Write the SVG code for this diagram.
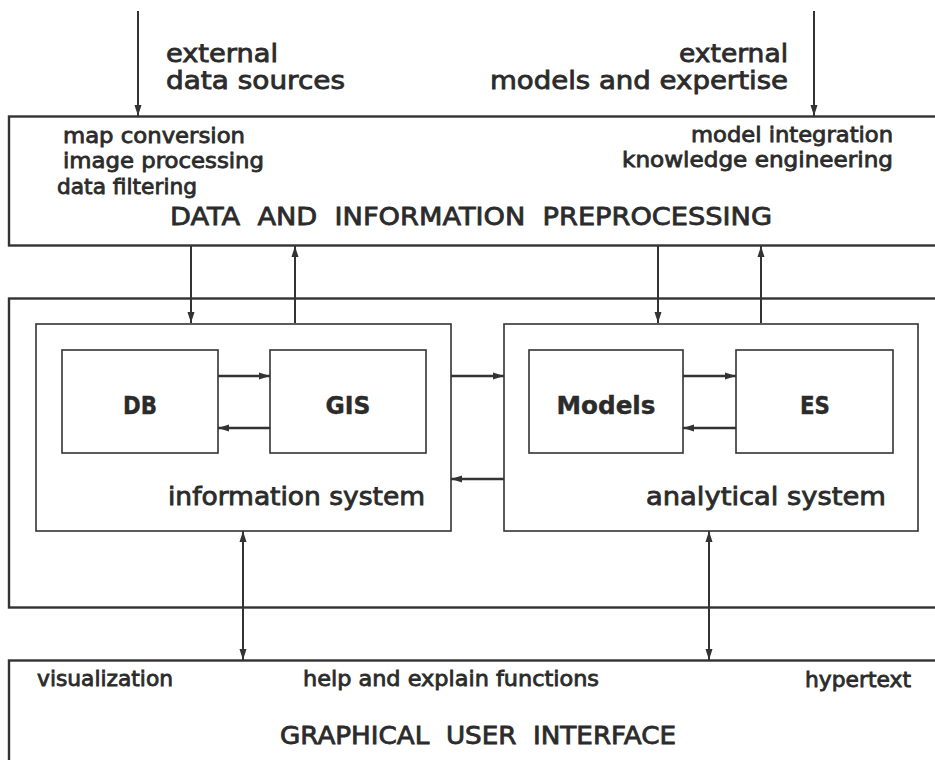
<svg xmlns="http://www.w3.org/2000/svg" width="935" height="760" viewBox="0 0 935 760">
<style>
text{font-family:"DejaVu Sans","Liberation Sans",sans-serif;fill:#2b2b2b;stroke:#2b2b2b;stroke-width:0.8}
.hd{font-size:24px}
.sm{font-size:21px}
.cap{font-size:25px}
.lbl{font-size:25px;text-anchor:middle;font-weight:bold;stroke-width:0.4}
.sys{font-size:24px}
.outer{fill:none;stroke:#333;stroke-width:2.4}
.inner{fill:none;stroke:#333;stroke-width:1.6}
.con{fill:none;stroke:#333;stroke-width:2}
.conh{fill:none;stroke:#333;stroke-width:2.6}
</style>
<defs>
<marker id="ah" markerUnits="userSpaceOnUse" markerWidth="12" markerHeight="9" refX="11" refY="4.5" orient="auto-start-reverse">
<path d="M0,1 L11,4.5 L0,8 z" fill="#333"/>
</marker>
</defs>
<rect width="935" height="760" fill="#fff"/>

<g id="preprocessing">
<rect class="outer" x="9" y="116.5" width="940" height="129"/>
<text class="sm" x="63" y="143" textLength="182" lengthAdjust="spacingAndGlyphs">map conversion</text>
<text class="sm" x="63" y="168" textLength="201" lengthAdjust="spacingAndGlyphs">image processing</text>
<text class="sm" x="57" y="194" textLength="140" lengthAdjust="spacingAndGlyphs">data filtering</text>
<text class="sm" x="691" y="142" textLength="202" lengthAdjust="spacingAndGlyphs">model integration</text>
<text class="sm" x="622" y="167" textLength="271" lengthAdjust="spacingAndGlyphs">knowledge engineering</text>
<text class="cap" x="170" y="225" textLength="602" lengthAdjust="spacingAndGlyphs" xml:space="preserve">DATA  AND  INFORMATION  PREPROCESSING</text>
</g>

<g id="external-data">
<text class="hd" x="166" y="62" textLength="112" lengthAdjust="spacingAndGlyphs">external</text>
<text class="hd" x="166" y="89" textLength="179" lengthAdjust="spacingAndGlyphs">data sources</text>
</g>
<g id="external-models">
<text class="hd" x="679" y="62" textLength="109" lengthAdjust="spacingAndGlyphs">external</text>
<text class="hd" x="490" y="89" textLength="298" lengthAdjust="spacingAndGlyphs">models and expertise</text>
</g>

<g id="system">
<rect class="outer" x="9" y="298.5" width="940" height="309"/>
</g>

<g id="information-system">
<rect class="inner" x="36" y="324" width="415" height="207"/>
<text class="sys" x="168" y="505" textLength="257" lengthAdjust="spacingAndGlyphs">information system</text>
</g>
<g id="db">
<rect class="inner" x="62" y="350" width="156" height="103"/>
<text class="lbl" x="140" y="414" textLength="34" lengthAdjust="spacingAndGlyphs">DB</text>
</g>
<g id="gis">
<rect class="inner" x="270" y="350" width="156" height="103"/>
<text class="lbl" x="348" y="414" textLength="45" lengthAdjust="spacingAndGlyphs">GIS</text>
</g>

<g id="analytical-system">
<rect class="inner" x="504" y="324" width="414" height="207"/>
<text class="sys" x="646" y="505" textLength="240" lengthAdjust="spacingAndGlyphs">analytical system</text>
</g>
<g id="models">
<rect class="inner" x="529" y="350" width="154" height="103"/>
<text class="lbl" x="606" y="414" textLength="99" lengthAdjust="spacingAndGlyphs">Models</text>
</g>
<g id="es">
<rect class="inner" x="736" y="350" width="157" height="103"/>
<text class="lbl" x="815" y="414" textLength="30" lengthAdjust="spacingAndGlyphs">ES</text>
</g>

<g id="gui">
<rect class="outer" x="9" y="660.5" width="940" height="130"/>
<text class="sm" x="37" y="686" textLength="136" lengthAdjust="spacingAndGlyphs">visualization</text>
<text class="sm" x="303" y="686" textLength="296" lengthAdjust="spacingAndGlyphs">help and explain functions</text>
<text class="sm" x="805" y="687" textLength="106" lengthAdjust="spacingAndGlyphs">hypertext</text>
<text class="sys" x="280" y="744" textLength="396" lengthAdjust="spacingAndGlyphs" xml:space="preserve">GRAPHICAL  USER  INTERFACE</text>
</g>

<g id="connectors">
<line class="con" x1="138" y1="11" x2="138" y2="116" marker-end="url(#ah)"/>
<line class="con" x1="814" y1="11" x2="814" y2="116" marker-end="url(#ah)"/>
<line class="con" x1="191" y1="246" x2="191" y2="323" marker-end="url(#ah)"/>
<line class="con" x1="295" y1="323" x2="295" y2="246" marker-end="url(#ah)"/>
<line class="con" x1="658" y1="246" x2="658" y2="323" marker-end="url(#ah)"/>
<line class="con" x1="761" y1="323" x2="761" y2="246" marker-end="url(#ah)"/>
<line class="conh" x1="218" y1="376" x2="270" y2="376" marker-end="url(#ah)"/>
<line class="conh" x1="270" y1="428" x2="218" y2="428" marker-end="url(#ah)"/>
<line class="conh" x1="683" y1="376" x2="736" y2="376" marker-end="url(#ah)"/>
<line class="conh" x1="736" y1="428" x2="683" y2="428" marker-end="url(#ah)"/>
<line class="conh" x1="451" y1="376" x2="504" y2="376" marker-end="url(#ah)"/>
<line class="conh" x1="504" y1="479" x2="451" y2="479" marker-end="url(#ah)"/>
<line class="con" x1="243" y1="531" x2="243" y2="660" marker-start="url(#ah)" marker-end="url(#ah)"/>
<line class="con" x1="709" y1="531" x2="709" y2="660" marker-start="url(#ah)" marker-end="url(#ah)"/>
</g>
</svg>
